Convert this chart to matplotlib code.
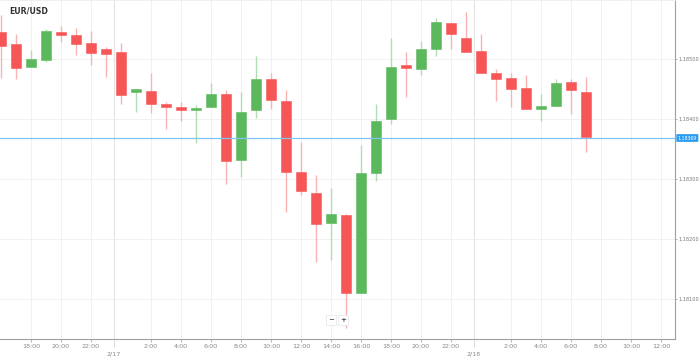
import matplotlib
matplotlib.use('Agg')
import matplotlib.pyplot as plt
import matplotlib.transforms as mtransforms
import numpy as np

# hourly candles, x = hours since 2/16 00:00
hours = list(range(16, 56))
opens = [1.18545, 1.18526, 1.18487, 1.18499, 1.18545, 1.18540, 1.18527, 1.18518, 1.18512, 1.18446,
         1.18447, 1.18426, 1.18420, 1.18415, 1.18420, 1.18443, 1.18333, 1.18416, 1.18467, 1.18431,
         1.18313, 1.18277, 1.18227, 1.18241, 1.18111, 1.18310, 1.18400, 1.18490, 1.18484, 1.18518,
         1.18561, 1.18535, 1.18514, 1.18477, 1.18469, 1.18452, 1.18417, 1.18422, 1.18462, 1.18445]
highs = [1.18574, 1.18542, 1.18516, 1.18550, 1.18556, 1.18552, 1.18548, 1.18521, 1.18527, 1.18450,
         1.18478, 1.18429, 1.18429, 1.18424, 1.18461, 1.18449, 1.18446, 1.18506, 1.18477, 1.18449,
         1.18362, 1.18307, 1.18286, 1.18242, 1.18357, 1.18426, 1.18536, 1.18512, 1.18531, 1.18569,
         1.18561, 1.18579, 1.18542, 1.18484, 1.18478, 1.18474, 1.18442, 1.18467, 1.18467, 1.18470]
lows = [1.18469, 1.18468, 1.18487, 1.18496, 1.18529, 1.18508, 1.18491, 1.18471, 1.18426, 1.18413,
        1.18410, 1.18384, 1.18398, 1.18361, 1.18420, 1.18292, 1.18304, 1.18403, 1.18417, 1.18245,
        1.18274, 1.18162, 1.18166, 1.18052, 1.18111, 1.18297, 1.18392, 1.18438, 1.18474, 1.18505,
        1.18517, 1.18512, 1.18477, 1.18431, 1.18421, 1.18417, 1.18398, 1.18422, 1.18409, 1.18346]
closes = [1.18523, 1.18486, 1.18500, 1.18548, 1.18540, 1.18525, 1.18510, 1.18509, 1.18441, 1.18449,
          1.18426, 1.18420, 1.18416, 1.18418, 1.18443, 1.18331, 1.18412, 1.18467, 1.18432, 1.18312,
          1.18281, 1.18226, 1.18242, 1.18110, 1.18310, 1.18397, 1.18487, 1.18485, 1.18517, 1.18562,
          1.18542, 1.18512, 1.18477, 1.18467, 1.18451, 1.18417, 1.18423, 1.18461, 1.18449, 1.18370]

current_price = 1.18369
price_ticks = [1.181, 1.182, 1.183, 1.184, 1.185]
time_ticks = [18, 20, 22, 26, 28, 30, 32, 34, 36, 38, 40, 42, 44, 46, 50, 52, 54, 56, 58, 60]
day_marks = [23.5, 47.5]
day_labels = ['2/17', '2/18']

RED = '#f75656'
GREEN = '#5cb85c'

fig = plt.figure(figsize=(6.99, 3.58), dpi=100)
ax = fig.add_axes([0, 19 / 358, 675 / 699, 339 / 358])

o = np.array(opens); c = np.array(closes)
h = np.array(highs); l = np.array(lows)
up = c >= o
colors = np.where(up, GREEN, RED)
wick_colors = np.where(up, '#b2dcb2', '#f9b3b3')

ax.vlines(hours, l, h, colors=wick_colors, lw=1, zorder=2)
body_bottom = np.minimum(o, c)
body_height = np.maximum(np.abs(c - o), 0.00004)
ax.bar(hours, body_height, bottom=body_bottom, width=0.66, color=colors,
       edgecolor=colors, linewidth=0.4, zorder=3)

ax.set_xlim(15.93, 60.93)
ax.set_ylim(1.18034, 1.18599)

# grid + day separators
ax.set_xticks(time_ticks)
ax.set_xticklabels([f'{t % 24}:00' for t in time_ticks])
ax.set_yticks(price_ticks)
ax.set_yticklabels([f'{p:.5f}' for p in price_ticks])
ax.grid(color='#f1f1f1', lw=0.7, zorder=0)
for d in day_marks:
    ax.axvline(d, color='#e4e4e4', lw=0.8, zorder=1)

ax.yaxis.tick_right()
ax.tick_params(axis='y', length=1.5, width=0.6, color='#aaaaaa', labelsize=3.6,
               labelcolor='#777777', pad=1)
ax.tick_params(axis='x', length=2, width=0.6, color='#aaaaaa', labelsize=4.6,
               labelcolor='#888888', pad=1.5)
ax.spines['left'].set_visible(False)
ax.spines['top'].set_color('#eeeeee')
ax.spines['top'].set_linewidth(0.6)
for s in ['right', 'bottom']:
    ax.spines[s].set_color('#a0a0a0')
    ax.spines[s].set_linewidth(0.8)

# date labels under the axis
trans = mtransforms.blended_transform_factory(ax.transData, ax.transAxes)
for d, lab in zip(day_marks, day_labels):
    ax.plot([d, d], [0, -0.025], transform=trans, color='#aaaaaa', lw=0.6,
            ls=(0, (1, 1)), clip_on=False)
    ax.text(d, -0.038, lab, transform=trans, ha='center', va='top',
            fontsize=4.6, color='#888888')

# current price line + tag
ax.axhline(current_price, color='#7cc7f2', lw=0.9, zorder=4)
ax.text(1.004, current_price, f'{current_price:.5f}',
        transform=mtransforms.blended_transform_factory(ax.transAxes, ax.transData),
        ha='left', va='center', fontsize=3.3, color='white', clip_on=False,
        bbox=dict(boxstyle='round,pad=0.3,rounding_size=0.15', fc='#2a9cf2', ec='none'))

# title
ax.text(9 / 675, 1 - 11 / 339, 'EUR/USD', transform=ax.transAxes, ha='left', va='center',
        fontsize=5.6, fontweight='bold', color='#333333')

# zoom buttons
for xb, sym in [(331, '\u2212'), (343, '+')]:
    ax.text(xb / 675, 1 - 320 / 339, sym, transform=ax.transAxes, ha='center', va='center',
            fontsize=5, color='#555555', fontweight='bold',
            bbox=dict(boxstyle='square,pad=0.3', fc='white', ec='#e6e6e6', lw=0.5))

fig.savefig('out.png', dpi=100)
